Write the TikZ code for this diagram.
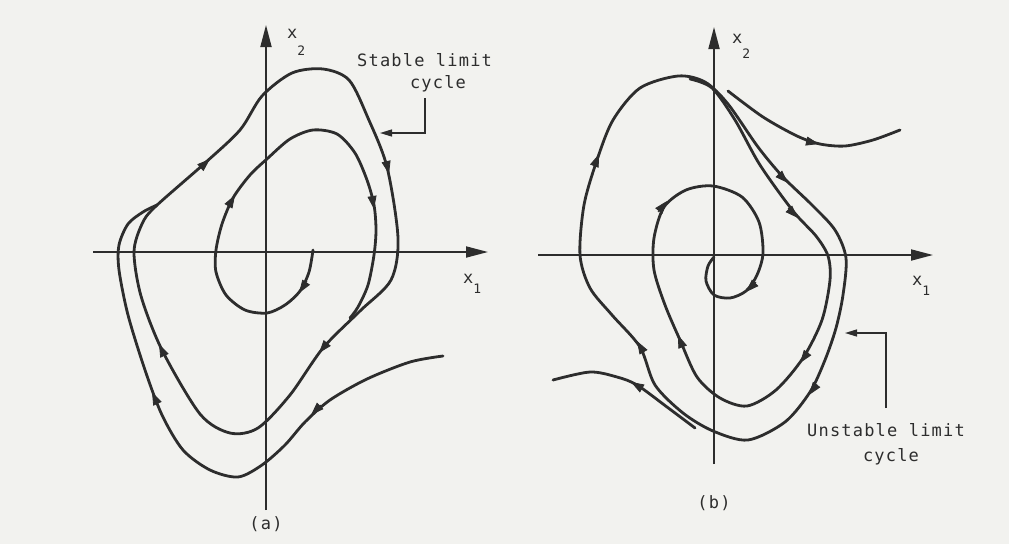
\documentclass[tikz,border=0pt]{standalone}
\usepackage{fontspec}
\newfontfamily\labfont[LetterSpace=7]{DejaVu Sans Mono}
\usetikzlibrary{arrows.meta}
\definecolor{paper}{RGB}{242,242,239}
\definecolor{ink}{RGB}{45,45,45}
\newcommand\tipat[2]{\draw[tipmark] (#1) -- (#2);}
\begin{document}
\begin{tikzpicture}[x=1pt,y=-1pt,
  traj/.style={draw=ink, line width=2.8pt, line cap=round, line join=round},
  axisline/.style={draw=ink, line width=1.8pt, -{Triangle[length=22pt,width=11pt]}},
  tipmark/.style={draw=ink, fill=ink, line width=0.8pt, -{Triangle[length=13pt,width=9pt]}},
  leader/.style={draw=ink, line width=1.4pt, -{Triangle[length=12pt,width=7pt]}},
  lab/.style={font=\labfont\fontsize{17}{17}\selectfont, text=ink, inner sep=0pt}
]
\useasboundingbox (0,0) rectangle (1009,544);
\fill[paper] (0,0) rectangle (1009,544);

% ---------- panel (a) ----------
\draw[axisline] (266,510) -- (266,25);
\draw[axisline] (93,252) -- (488,252);
\node[lab, anchor=base west] (x2a) at (287,38) {x\raisebox{-17pt}{\fontsize{13}{13}\selectfont 2}};
\node[lab, anchor=base west] (x1a) at (463,283) {x\raisebox{-10pt}{\fontsize{13}{13}\selectfont 1}};
\node[lab, anchor=west] (stab) at (357,60) {Stable limit};
\node[lab] (cyca) at (438,84) {cycle};
\node[lab] (capa) at (266,524) {(a)};
\coordinate (sl1) at (425,98);
\coordinate (sl2) at (380,133);
\draw[leader] (sl1) |- (sl2);

% stable limit cycle
\draw[traj] plot[smooth cycle] coordinates {(155,207) (205,163) (240,130) (262,96) (292,73) (323,69) (349,80) (368,118) (387,167) (398,238) (391,280) (360,311) (323,348) (290,395) (258,428) (230,433) (200,414) (162,350) (141,296) (134,252) (142,224)};
% inner spiral
\draw[traj] plot[smooth] coordinates {(313,250) (309,272) (300,291) (285,305) (267,313) (245,310) (226,295) (216,272) (216,250) (222,224) (233,198) (250,175) (268,158) (290,139) (313,130) (337,134) (355,153) (367,180) (374,205) (376,230) (374,255) (368,285) (358,307) (350,318)};
% outer trajectory
\draw[traj] plot[smooth] coordinates {(443,356) (410,362) (367,379) (330,400) (305,422) (285,445) (262,465) (238,477) (210,470) (183,450) (162,415) (145,370) (128,315) (119,270) (119,245) (128,224) (143,212) (157,205)};

\tipat{200,168}{210,159}
\tipat{386,161}{389,174}
\tipat{328,342}{319,353}
\tipat{165,357}{159,344}
\tipat{307,281}{299,293}
\tipat{228,207}{235,195}
\tipat{372,196}{374,209}
\tipat{321,405}{311,415}
\tipat{158,405}{152,392}

% ---------- panel (b) ----------
\draw[axisline] (714,464) -- (714,27);
\draw[axisline] (538,255) -- (933,255);
\node[lab, anchor=base west] (x2b) at (732,43) {x\raisebox{-15pt}{\fontsize{13}{13}\selectfont 2}};
\node[lab, anchor=base west] (x1b) at (912,285) {x\raisebox{-10pt}{\fontsize{13}{13}\selectfont 1}};
\node[lab, anchor=west] (unst) at (807,430) {Unstable limit};
\node[lab] (cycb) at (891,457) {cycle};
\node[lab] (capb) at (714,503) {(b)};
\coordinate (ul1) at (886,408);
\coordinate (ul2) at (845,333);
\draw[leader] (ul1) |- (ul2);

% unstable limit cycle
\draw[traj] plot[smooth cycle] coordinates {(580,255) (584,205) (597,160) (613,120) (640,88) (678,76) (705,82) (728,104) (758,147) (783,177) (812,205) (835,230) (846,258) (843,295) (836,328) (825,360) (810,392) (785,422) (748,440) (713,431) (683,413) (655,385) (640,347) (612,315) (590,288)};
% inner spiral
\draw[traj] plot[smooth] coordinates {(690,79) (712,88) (735,120) (760,165) (793,211) (816,236) (828,256) (830,280) (822,320) (803,358) (776,390) (747,406) (720,398) (697,377) (680,340) (665,305) (654,270) (654,238) (664,207) (686,190) (713,186) (742,197) (759,222) (763,253) (757,275) (746,291) (730,298) (714,295) (706,281) (708,266) (714,257)};
% escaping trajectories
\draw[traj] plot[smooth] coordinates {(728,91) (763,117) (797,136) (820,144) (845,146) (873,140) (900,130)};
\draw[traj] plot[smooth] coordinates {(695,428) (667,407) (637,385) (617,377) (590,372) (553,380)};

\tipat{594,167}{599,154}
\tipat{778,173}{788,183}
\tipat{817,384}{809,395}
\tipat{644,353}{637,341}
\tipat{788,208}{798,218}
\tipat{808,352}{800,363}
\tipat{683,348}{678,335}
\tipat{658,212}{667,201}
\tipat{756,282}{746,292}
\tipat{806,141}{819,144}
\tipat{643,389}{631,382}
\end{tikzpicture}
\end{document}
